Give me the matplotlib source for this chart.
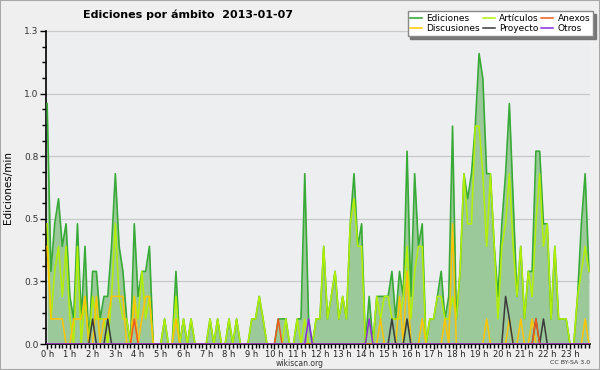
import math
import numpy as np
import matplotlib
matplotlib.use("Agg")
import matplotlib.pyplot as plt
from matplotlib.patches import Rectangle
from matplotlib.ticker import MultipleLocator, FuncFormatter

# ediciones por minuto, un valor cada 10 minutos (144 puntos = 24 h)
ediciones = [
    0.96, 0.29, 0.48, 0.58, 0.39, 0.48, 0.19, 0.10, 0.48, 0.10, 0.39, 0.0,
    0.29, 0.29, 0.10, 0.19, 0.19, 0.39, 0.68, 0.39, 0.29, 0.10, 0.0, 0.48,
    0.19, 0.29, 0.29, 0.39, 0.0, 0.0, 0.0, 0.10, 0.0, 0.0, 0.29, 0.0,
    0.10, 0.0, 0.10, 0.0, 0.0, 0.0, 0.0, 0.10, 0.0, 0.10, 0.0, 0.0,
    0.10, 0.0, 0.10, 0.0, 0.0, 0.0, 0.10, 0.10, 0.19, 0.10, 0.0, 0.0,
    0.0, 0.10, 0.10, 0.10, 0.0, 0.0, 0.10, 0.10, 0.68, 0.10, 0.0, 0.10,
    0.10, 0.39, 0.10, 0.19, 0.29, 0.10, 0.19, 0.10, 0.48, 0.68, 0.39, 0.48,
    0.0, 0.19, 0.0, 0.19, 0.19, 0.19, 0.19, 0.29, 0.10, 0.29, 0.19, 0.77,
    0.19, 0.68, 0.39, 0.48, 0.0, 0.10, 0.10, 0.19, 0.29, 0.10, 0.19, 0.87,
    0.10, 0.29, 0.68, 0.58, 0.68, 0.87, 1.16, 1.06, 0.68, 0.68, 0.39, 0.19,
    0.48, 0.68, 0.96, 0.58, 0.19, 0.39, 0.10, 0.29, 0.29, 0.77, 0.77, 0.48,
    0.48, 0.10, 0.39, 0.10, 0.10, 0.10, 0.0, 0.0, 0.19, 0.48, 0.68, 0.29,
]
articulos = [
    0.48, 0.10, 0.29, 0.39, 0.19, 0.39, 0.10, 0.0, 0.39, 0.0, 0.19, 0.0,
    0.19, 0.10, 0.10, 0.10, 0.0, 0.19, 0.48, 0.19, 0.10, 0.10, 0.0, 0.19,
    0.10, 0.29, 0.10, 0.19, 0.0, 0.0, 0.0, 0.10, 0.0, 0.0, 0.19, 0.0,
    0.10, 0.0, 0.10, 0.0, 0.0, 0.0, 0.0, 0.10, 0.0, 0.10, 0.0, 0.0,
    0.10, 0.0, 0.10, 0.0, 0.0, 0.0, 0.10, 0.10, 0.19, 0.10, 0.0, 0.0,
    0.0, 0.0, 0.0, 0.10, 0.0, 0.0, 0.10, 0.0, 0.10, 0.0, 0.0, 0.10,
    0.10, 0.39, 0.10, 0.19, 0.29, 0.10, 0.19, 0.10, 0.48, 0.58, 0.39, 0.39,
    0.0, 0.10, 0.0, 0.19, 0.10, 0.19, 0.19, 0.10, 0.10, 0.10, 0.19, 0.39,
    0.10, 0.29, 0.39, 0.39, 0.0, 0.10, 0.10, 0.19, 0.19, 0.10, 0.10, 0.19,
    0.10, 0.29, 0.68, 0.48, 0.48, 0.87, 0.87, 0.68, 0.39, 0.68, 0.39, 0.10,
    0.39, 0.48, 0.68, 0.39, 0.19, 0.39, 0.10, 0.29, 0.19, 0.48, 0.68, 0.39,
    0.48, 0.10, 0.39, 0.10, 0.10, 0.10, 0.0, 0.0, 0.19, 0.29, 0.39, 0.29,
]
discusiones = [
    0.39, 0.10, 0.10, 0.10, 0.10, 0.0, 0.0, 0.10, 0.10, 0.10, 0.19, 0.0,
    0.0, 0.19, 0.0, 0.10, 0.10, 0.19, 0.19, 0.19, 0.19, 0.0, 0.0, 0.19,
    0.0, 0.10, 0.19, 0.19, 0.0, 0.0, 0.0, 0.0, 0.0, 0.0, 0.10, 0.0,
    0.0, 0.0, 0.0, 0.0, 0.0, 0.0, 0.0, 0.0, 0.0, 0.0, 0.0, 0.0,
    0.0, 0.0, 0.0, 0.0, 0.0, 0.0, 0.0, 0.0, 0.0, 0.0, 0.0, 0.0,
    0.0, 0.0, 0.0, 0.0, 0.0, 0.0, 0.0, 0.0, 0.0, 0.0, 0.0, 0.0,
    0.0, 0.0, 0.0, 0.0, 0.0, 0.0, 0.0, 0.0, 0.0, 0.0, 0.0, 0.0,
    0.0, 0.0, 0.0, 0.0, 0.10, 0.0, 0.0, 0.0, 0.0, 0.19, 0.0, 0.29,
    0.0, 0.0, 0.0, 0.10, 0.0, 0.0, 0.0, 0.0, 0.0, 0.10, 0.0, 0.48,
    0.0, 0.0, 0.0, 0.0, 0.0, 0.0, 0.0, 0.0, 0.10, 0.0, 0.0, 0.0,
    0.0, 0.0, 0.10, 0.0, 0.0, 0.10, 0.0, 0.0, 0.10, 0.0, 0.0, 0.0,
    0.0, 0.0, 0.0, 0.0, 0.0, 0.0, 0.0, 0.0, 0.0, 0.0, 0.10, 0.0,
]
proyecto = [
    0.0, 0.0, 0.0, 0.0, 0.0, 0.0, 0.0, 0.0, 0.0, 0.0, 0.0, 0.0,
    0.10, 0.0, 0.0, 0.0, 0.10, 0.0, 0.0, 0.0, 0.0, 0.0, 0.0, 0.0,
    0.0, 0.0, 0.0, 0.0, 0.0, 0.0, 0.0, 0.0, 0.0, 0.0, 0.0, 0.0,
    0.0, 0.0, 0.0, 0.0, 0.0, 0.0, 0.0, 0.0, 0.0, 0.0, 0.0, 0.0,
    0.0, 0.0, 0.0, 0.0, 0.0, 0.0, 0.0, 0.0, 0.0, 0.0, 0.0, 0.0,
    0.0, 0.0, 0.0, 0.0, 0.0, 0.0, 0.0, 0.0, 0.0, 0.0, 0.0, 0.0,
    0.0, 0.0, 0.0, 0.0, 0.0, 0.0, 0.0, 0.0, 0.0, 0.0, 0.0, 0.0,
    0.0, 0.0, 0.0, 0.0, 0.0, 0.0, 0.0, 0.10, 0.0, 0.0, 0.0, 0.10,
    0.0, 0.0, 0.0, 0.0, 0.0, 0.0, 0.0, 0.0, 0.0, 0.0, 0.0, 0.0,
    0.0, 0.0, 0.0, 0.0, 0.0, 0.0, 0.0, 0.0, 0.0, 0.0, 0.0, 0.0,
    0.0, 0.19, 0.10, 0.0, 0.0, 0.0, 0.0, 0.0, 0.0, 0.10, 0.0, 0.10,
    0.0, 0.0, 0.0, 0.0, 0.0, 0.0, 0.0, 0.0, 0.0, 0.0, 0.0, 0.0,
]
anexos = [
    0.0, 0.0, 0.0, 0.0, 0.0, 0.0, 0.0, 0.0, 0.0, 0.0, 0.0, 0.0,
    0.0, 0.0, 0.0, 0.0, 0.0, 0.0, 0.0, 0.0, 0.0, 0.0, 0.0, 0.10,
    0.0, 0.0, 0.0, 0.0, 0.0, 0.0, 0.0, 0.0, 0.0, 0.0, 0.0, 0.0,
    0.0, 0.0, 0.0, 0.0, 0.0, 0.0, 0.0, 0.0, 0.0, 0.0, 0.0, 0.0,
    0.0, 0.0, 0.0, 0.0, 0.0, 0.0, 0.0, 0.0, 0.0, 0.0, 0.0, 0.0,
    0.0, 0.10, 0.0, 0.0, 0.0, 0.0, 0.0, 0.0, 0.0, 0.0, 0.0, 0.0,
    0.0, 0.0, 0.0, 0.0, 0.0, 0.0, 0.0, 0.0, 0.0, 0.0, 0.0, 0.0,
    0.0, 0.0, 0.0, 0.0, 0.0, 0.0, 0.0, 0.0, 0.0, 0.0, 0.0, 0.0,
    0.0, 0.0, 0.0, 0.0, 0.0, 0.0, 0.0, 0.0, 0.0, 0.0, 0.0, 0.0,
    0.0, 0.0, 0.0, 0.0, 0.0, 0.0, 0.0, 0.0, 0.0, 0.0, 0.0, 0.0,
    0.0, 0.0, 0.0, 0.0, 0.0, 0.0, 0.0, 0.0, 0.0, 0.10, 0.0, 0.0,
    0.0, 0.0, 0.0, 0.0, 0.0, 0.0, 0.0, 0.0, 0.0, 0.0, 0.0, 0.0,
]
otros = [
    0.0, 0.0, 0.0, 0.0, 0.0, 0.0, 0.0, 0.0, 0.0, 0.0, 0.0, 0.0,
    0.0, 0.0, 0.0, 0.0, 0.0, 0.0, 0.0, 0.0, 0.0, 0.0, 0.0, 0.0,
    0.0, 0.0, 0.0, 0.0, 0.0, 0.0, 0.0, 0.0, 0.0, 0.0, 0.0, 0.0,
    0.0, 0.0, 0.0, 0.0, 0.0, 0.0, 0.0, 0.0, 0.0, 0.0, 0.0, 0.0,
    0.0, 0.0, 0.0, 0.0, 0.0, 0.0, 0.0, 0.0, 0.0, 0.0, 0.0, 0.0,
    0.0, 0.0, 0.0, 0.0, 0.0, 0.0, 0.0, 0.0, 0.0, 0.10, 0.0, 0.0,
    0.0, 0.0, 0.0, 0.0, 0.0, 0.0, 0.0, 0.0, 0.0, 0.0, 0.0, 0.0,
    0.0, 0.10, 0.0, 0.0, 0.0, 0.0, 0.0, 0.0, 0.0, 0.0, 0.0, 0.0,
    0.0, 0.0, 0.0, 0.0, 0.0, 0.0, 0.0, 0.0, 0.0, 0.0, 0.0, 0.0,
    0.0, 0.0, 0.0, 0.0, 0.0, 0.0, 0.0, 0.0, 0.0, 0.0, 0.0, 0.0,
    0.0, 0.0, 0.0, 0.0, 0.0, 0.0, 0.0, 0.0, 0.0, 0.0, 0.0, 0.0,
    0.0, 0.0, 0.0, 0.0, 0.0, 0.0, 0.0, 0.0, 0.0, 0.0, 0.0, 0.0,
]

series = [
    ("Artículos", articulos, "#b2f000"),
    ("Discusiones", discusiones, "#ffc400"),
    ("Proyecto", proyecto, "#3a3a3a"),
    ("Anexos", anexos, "#f05a1e"),
    ("Otros", otros, "#8a2be2"),
]

hours = np.arange(len(ediciones)) / 6.0

BG = "#efefef"
fig = plt.figure(figsize=(6, 3.7), dpi=100, facecolor=BG)
ax = fig.add_axes([46 / 600, 1 - 344 / 370, 544 / 600, 313 / 370])
ax.set_facecolor("#eceef0")

ax.fill_between(hours, ediciones, 0, color="#9cc999", lw=0, zorder=2)
ed_line, = ax.plot(hours, ediciones, color="#38aa38", lw=1.2, zorder=3)
lines = {}
for name, vals, col in series:
    lines[name], = ax.plot(hours, vals, color=col, lw=1.1, zorder=4)

ax.set_xlim(-0.05, 23.88)
ax.set_ylim(0, 1.25)

ax.yaxis.set_major_locator(MultipleLocator(0.25))
ax.yaxis.set_minor_locator(MultipleLocator(0.0625))
ax.yaxis.set_major_formatter(FuncFormatter(lambda v, p: f"{math.floor(v * 10 + 0.5) / 10:.1f}"))
ax.xaxis.set_major_locator(MultipleLocator(1))
ax.xaxis.set_minor_locator(MultipleLocator(1 / 6))
ax.xaxis.set_major_formatter(FuncFormatter(lambda v, p: f"{int(round(v))} h"))

ax.grid(axis="y", which="major", color="#c8c8c8", lw=0.9, zorder=1)
ax.tick_params(axis="y", which="major", labelsize=6.5, labelcolor="#333333",
               length=4, width=1, direction="out", pad=1.5)
ax.tick_params(axis="x", which="major", labelsize=6, labelcolor="#222222",
               length=3.5, width=1, direction="out", pad=0.5)
ax.tick_params(axis="both", which="minor", length=3, width=1, direction="out")
for s in ("top", "right"):
    ax.spines[s].set_visible(False)
for s in ("left", "bottom"):
    ax.spines[s].set_linewidth(1.2)

ax.set_ylabel("Ediciones/min", fontsize=7.5, labelpad=8)

fig.text(188 / 600, 1 - 15 / 370, "Ediciones por ámbito  2013-01-07",
         ha="center", va="center", fontsize=8, fontweight="bold")
fig.text(300 / 600, 1 - 363.5 / 370, "wikiscan.org", ha="center", va="center",
         fontsize=5.5, color="#333333")
fig.text(590 / 600, 1 - 363 / 370, "CC BY-SA 3.0", ha="right", va="center",
         fontsize=4.5, color="#333333")

handles = [ed_line, lines["Discusiones"], lines["Artículos"], lines["Proyecto"],
           lines["Anexos"], lines["Otros"]]
labels = ["Ediciones", "Discusiones", "Artículos", "Proyecto", "Anexos", "Otros"]
leg = fig.legend(handles, labels, ncol=3, loc="upper right",
                 bbox_to_anchor=(593 / 600, 1 - 11 / 370), fontsize=6.5,
                 frameon=True, fancybox=False, shadow={"color": "#777777", "alpha": 1},
                 handlelength=1.3, handletextpad=0.5, columnspacing=0.3,
                 labelspacing=0.15, borderpad=0.3, borderaxespad=0)
leg.get_frame().set_edgecolor("#888888")
leg.get_frame().set_linewidth(1)
leg.get_frame().set_facecolor("white")

fig.patches.append(Rectangle((0, 0), 1, 1, transform=fig.transFigure, fill=False,
                             edgecolor="#a8a8a8", lw=1.5, zorder=10))

fig.savefig("out.png", dpi=100, facecolor=BG)
